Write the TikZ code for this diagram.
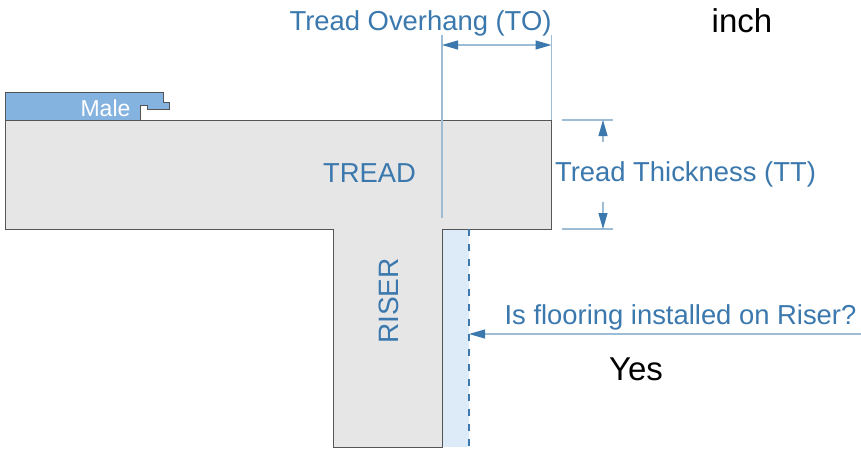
\documentclass[tikz,border=0pt]{standalone}
\usepackage{fontspec}
\setmainfont{Liberation Sans}
\usetikzlibrary{arrows.meta}
\definecolor{dimblue}{HTML}{3A78AD}
\definecolor{dimline}{HTML}{9DBDD6}
\definecolor{woodgray}{HTML}{E6E6E6}
\definecolor{edgegray}{HTML}{555555}
\definecolor{plank}{HTML}{85B3E0}
\definecolor{floorblue}{HTML}{DDEAF8}
\tikzset{
  dimlabel/.style={text=dimblue,font=\fontsize{27.4}{27.4}\selectfont,inner sep=0pt},
  blacklabel/.style={text=black,font=\fontsize{33}{33}\selectfont,inner sep=0pt},
  dimthin/.style={draw=dimline,line width=1.1pt},
  dimarrow/.style={draw=dimline,line width=1.1pt,{Triangle[length=16pt,width=9pt,color=dimblue]}-{Triangle[length=16pt,width=9pt,color=dimblue]}},
  onearrow/.style={draw=dimline,line width=1.1pt,-{Triangle[length=16pt,width=9pt,color=dimblue]}},
  body/.style={fill=woodgray,draw=edgegray,line width=1pt},
}
\begin{document}
\begin{tikzpicture}[x=1pt,y=-1pt]
\useasboundingbox (0,0) rectangle (861,450);
% floor on riser
\fill[floorblue] (442,229) rectangle (469,447);
% tread and riser
\draw[body] (5,120) -- (551.5,120) -- (551.5,229) -- (442,229) -- (442,447) -- (333,447) -- (333,229) -- (5,229) -- cycle;
% plank
\draw[fill=plank,draw=edgegray,line width=1pt] (5,92) -- (163,92) -- (163,102) -- (169,102) -- (169,109) -- (147,109) -- (147,105) -- (140,105) -- (140,120) -- (5,120) -- cycle;
\node[text=white,font=\fontsize{23}{23}\selectfont,inner sep=0pt] (male) at (105.5,108) {Male};
% coordinates
\coordinate (toLtop) at (442,35);
\coordinate (toLbot) at (442,218);
\coordinate (toRtop) at (551.5,35);
\coordinate (toRbot) at (551.5,120);
\coordinate (toA) at (442,45);
\coordinate (toB) at (551.5,45);
\coordinate (ttTopL) at (562,120);
\coordinate (ttTopR) at (613,120);
\coordinate (ttBotL) at (562,229);
\coordinate (ttBotR) at (613,229);
\coordinate (ttUpEnd) at (603,142);
\coordinate (ttUpTip) at (603,120);
\coordinate (ttDownEnd) at (603,202);
\coordinate (ttDownTip) at (603,229);
\coordinate (dashTop) at (469,229);
\coordinate (dashBot) at (469,447);
\coordinate (isEnd) at (861,334);
\coordinate (isTip) at (469,334);
% dimension lines
\draw[dimthin] (toLtop) -- (toLbot);
\draw[dimthin] (toRtop) -- (toRbot);
\draw[dimarrow] (toA) -- (toB);
\draw[dimthin] (ttTopL) -- (ttTopR);
\draw[dimthin] (ttBotL) -- (ttBotR);
\draw[onearrow] (ttUpEnd) -- (ttUpTip);
\draw[onearrow] (ttDownEnd) -- (ttDownTip);
\draw[draw=dimblue,line width=1.1pt,dash pattern=on 7pt off 8pt] (dashTop) -- (dashBot);
\draw[onearrow] (isEnd) -- (isTip);
% labels
\node[dimlabel] (to) at (420.5,23) {Tread Overhang (TO)};
\node[dimlabel] (tt) at (685.5,174.5) {Tread Thickness (TT)};
\node[dimlabel] (tread) at (369.5,173) {TREAD};
\node[dimlabel,rotate=90,font=\fontsize{28}{28}\selectfont] (riser) at (388.7,301) {RISER};
\node[dimlabel] (is) at (680.5,317.5) {Is flooring installed on Riser?};
\node[blacklabel] (inch) at (742,21) {inch};
\node[blacklabel] (yes) at (636,369) {Yes};
\end{tikzpicture}
\end{document}
